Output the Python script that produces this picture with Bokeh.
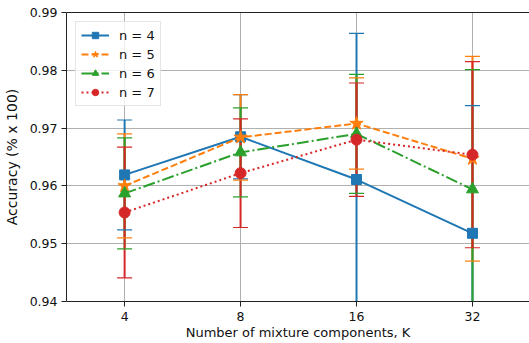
from bokeh.plotting import figure
from bokeh.models import (ColumnDataSource, Range1d, FixedTicker, BasicTickFormatter,
                          LinearAxis, Legend, LegendItem)
from bokeh.embed import file_html
from bokeh.resources import INLINE

# ---- data ----
K_values = [4, 8, 16, 32]
x_ticks = [4, 8, 16, 32]
y_ticks = [0.94, 0.95, 0.96, 0.97, 0.98, 0.99]

series_labels = ["n = 4", "n = 5", "n = 6", "n = 7"]

acc_n4 = [0.9619, 0.9685, 0.9611, 0.9518]
err_n4 = [0.0095, 0.0073, 0.0253, 0.0221]

acc_n5 = [0.9600, 0.9684, 0.9708, 0.9647]
err_n5 = [0.0090, 0.0074, 0.0079, 0.0177]

acc_n6 = [0.9587, 0.9658, 0.9690, 0.9594]
err_n6 = [0.0096, 0.0077, 0.0103, 0.0207]

acc_n7 = [0.9554, 0.9622, 0.9680, 0.9654]
err_n7 = [0.0113, 0.0094, 0.0098, 0.0161]

accs = [acc_n4, acc_n5, acc_n6, acc_n7]
errs = [err_n4, err_n5, err_n6, err_n7]

# ---- styles ----
colors = ["#1f77b4", "#ff7f0e", "#2ca02c", "#d62728"]
dashes = ["solid", "7 3", "12 3 2 3", "2 3"]
markers = ["square", "star", "triangle", "circle"]
msizes = [10, 14, 12, 11]
FONT = "DejaVu Sans"

p = figure(width=529, height=343, x_axis_type="log",
           x_range=Range1d(2.826, 45.0), y_range=Range1d(0.94, 0.99),
           output_backend="svg", toolbar_location=None,
           min_border_left=66, min_border_right=0, min_border_top=12, min_border_bottom=42)
p.outline_line_color = None
p.background_fill_color = "white"
p.border_fill_color = "white"

p.xaxis.ticker = FixedTicker(ticks=x_ticks)
p.xaxis.formatter = BasicTickFormatter()
p.xgrid.ticker = FixedTicker(ticks=x_ticks)
p.yaxis.ticker = FixedTicker(ticks=y_ticks)
p.ygrid.ticker = FixedTicker(ticks=y_ticks)

p.grid.grid_line_color = "#b0b0b0"
p.grid.grid_line_width = 1

p.axis.axis_line_color = "#222222"
p.axis.major_tick_line_color = "#222222"
p.axis.major_tick_out = 5
p.axis.major_tick_in = 0
p.axis.minor_tick_line_color = None
p.axis.major_label_text_font = FONT
p.axis.major_label_text_font_size = "12.5px"
p.axis.major_label_text_color = "#111111"
p.axis.axis_label_text_font = FONT
p.axis.axis_label_text_font_style = "normal"
p.axis.axis_label_text_color = "#111111"
p.xaxis.axis_label = "Number of mixture components, K"
p.yaxis.axis_label = "Accuracy (% x 100)"
p.xaxis.axis_label_text_font_size = "13px"
p.yaxis.axis_label_text_font_size = "14px"
p.xaxis.major_label_standoff = 5
p.xaxis.axis_label_standoff = 1
p.yaxis.major_label_standoff = 4
p.yaxis.axis_label_standoff = 7

# top spine
top_axis = LinearAxis(ticker=FixedTicker(ticks=[]), axis_line_color="#222222",
                      major_tick_line_color=None, minor_tick_line_color=None,
                      major_label_text_font_size="0px")
p.add_layout(top_axis, "above")

sources = []
for acc, err in zip(accs, errs):
    sources.append(ColumnDataSource(dict(
        x=K_values, y=acc,
        upper=[a + e for a, e in zip(acc, err)],
        lower=[a - e for a, e in zip(acc, err)])))

# error bars (under everything)
for src, c in zip(sources, colors):
    p.segment(x0="x", y0="lower", x1="x", y1="upper", source=src,
              line_color=c, line_width=2)

items = []
for src, c, d, m, s, lab in zip(sources, colors, dashes, markers, msizes, series_labels):
    p.scatter("x", "upper", source=src, marker="dash", size=15, line_color=c, line_width=1.2)
    p.scatter("x", "lower", source=src, marker="dash", size=15, line_color=c, line_width=1.2)
    lr = p.line("x", "y", source=src, line_color=c, line_width=2, line_dash=d)
    sr = p.scatter("x", "y", source=src, marker=m, size=s, fill_color=c, line_color=c)
    items.append(LegendItem(label=lab, renderers=[lr, sr]))

legend = Legend(items=items, location="top_left", margin=9,
                label_text_font=FONT, label_text_font_size="13px",
                label_text_color="#111111",
                glyph_width=28, glyph_height=16, label_height=16,
                label_standoff=10, spacing=3, padding=5,
                border_line_color="#cccccc", border_line_width=1,
                background_fill_color="white", background_fill_alpha=0.8)
p.add_layout(legend)

open("out.html", "w").write(file_html(p, INLINE))
